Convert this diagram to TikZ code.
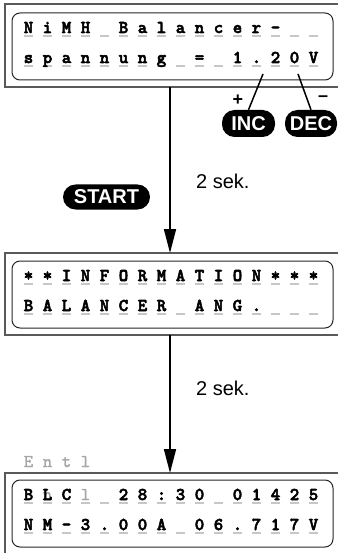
\documentclass[tikz,border=0pt]{standalone}
\usepackage{fontspec}
\setmainfont{Liberation Sans}
\newfontfamily\lcdfont{lmmonolt10-bold.otf}[FakeBold=3]
\newfontfamily\ghostfont{lmmono10-regular.otf}[FakeBold=1.5]
\usetikzlibrary{arrows.meta}
\newcommand\lcdrow[3]{%
  \foreach \ch [count=\i from 0] in {#3} {
    \draw[cellline] ({28.5+19*\i-4.5},{#2+3}) -- ({28.5+19*\i+4.5},{#2+3});
    \node[lcd] (#1\i) at ({28.5+19*\i},{#2}) {\ch};
  }}
\begin{document}
\begin{tikzpicture}[x=1pt,y=-1pt,
  outerbox/.style={draw=black!65,line width=1.3pt},
  innerbox/.style={draw=black!85,line width=1pt,rounded corners=8pt},
  lcd/.style={anchor=base,inner sep=0pt,font=\lcdfont\fontsize{18}{18}\selectfont},
  ghost/.style={anchor=base,inner sep=0pt,text=black!35,font=\ghostfont\fontsize{18}{18}\selectfont},
  cellline/.style={draw=black!22,line width=1.2pt},
  pill/.style={fill=black,text=white,rounded corners=12.5pt,inner sep=0pt,font=\bfseries\fontsize{20}{20}\selectfont},
  sign/.style={inner sep=0pt,font=\bfseries\fontsize{18}{18}\selectfont},
  lbl/.style={anchor=base west,inner sep=0pt,font=\fontsize{20}{20}\selectfont},
  arr/.style={line width=1.7pt,-{Triangle[length=24pt,width=12pt]}},
  link/.style={line width=1.5pt}]
\useasboundingbox (0,0) rectangle (338,553);
% box 1
\draw[outerbox] (338,4) -- (5,4) -- (5,87) -- (338,87);
\draw[innerbox] (12,13) rectangle (333,80);
\lcdrow{ra}{33}{N,i,M,H,{},B,a,l,a,n,c,e,r,-,{},{}}
\lcdrow{rb}{63}{s,p,a,n,n,u,n,g,{},=,{},1,.,2,0,V}
% box 2
\draw[outerbox] (338,253) -- (5,253) -- (5,335) -- (338,335);
\draw[innerbox] (12,261) rectangle (333,328);
\lcdrow{rc}{281}{*,*,I,N,F,O,R,M,A,T,I,O,N,*,*,*}
\lcdrow{rd}{311}{B,A,L,A,N,C,E,R,{},A,N,G,.,{},{},{}}
% box 3
\foreach \ch [count=\i from 0] in {E,n,t,l}
  \node[ghost] (g\i) at ({28.5+19*\i},467) {\ch};
\draw[outerbox] (338,473) -- (5,473) -- (5,553);
\draw[innerbox] (12,480) rectangle (333,547);
\node[ghost] (gn) at (47.5,500) {n};
\node[ghost] (gl) at (85.5,500) {l};
\lcdrow{re}{500}{B,L,C,{},{},2,8,:,3,0,{},0,1,4,2,5}
\lcdrow{rf}{530}{N,M,-,3,.,0,0,A,{},0,6,.,7,1,7,V}
% arrows
\coordinate (a1s) at (170,87);
\coordinate (a1e) at (170,253);
\coordinate (a2s) at (170,335);
\coordinate (a2e) at (170,473);
\draw[arr] (a1s) -- (a1e);
\draw[arr] (a2s) -- (a2e);
\node[lbl] (t1) at (196,189) {2 sek.};
\node[lbl] (t2) at (196,395) {2 sek.};
% buttons
\node[pill,minimum width=87pt,minimum height=25pt] (start) at (106.5,197) {START};
\node[pill,minimum width=53pt,minimum height=27pt] (inc) at (248.5,123.5) {INC};
\node[pill,minimum width=52pt,minimum height=27pt] (dec) at (311,123.5) {DEC};
\node[sign] (plus) at (238,100) {+};
\node[sign] (minus) at (323,99) {–};
\coordinate (pt) at (263,74);
\coordinate (mt) at (298,74);
\draw[link] (pt) -- (inc.north);
\draw[link] (mt) -- (dec.north);
\end{tikzpicture}
\end{document}
